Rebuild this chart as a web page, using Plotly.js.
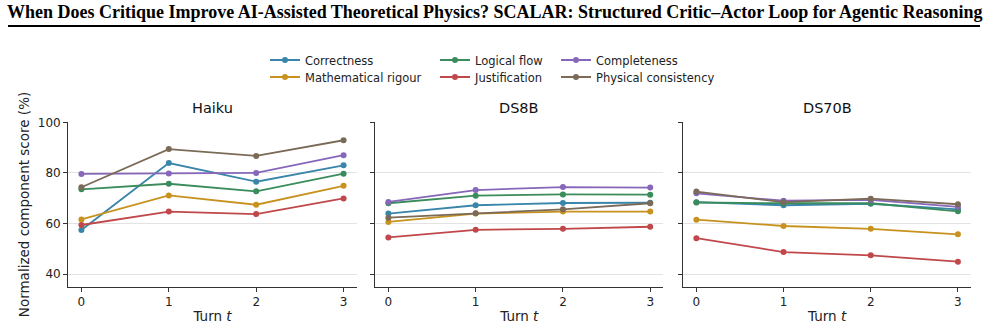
<!DOCTYPE html>
<html><head><meta charset="utf-8">
<script src="https://cdn.plot.ly/plotly-3.0.1.min.js"></script>
<style>html,body{margin:0;padding:0;background:#fff}#c{width:986px;height:328px}</style>
</head><body><div id="c"></div>
<script>
const turns = [0, 1, 2, 3];
const panels = ["Haiku", "DS8B", "DS70B"];
const metrics = ["Correctness", "Mathematical rigour", "Logical flow", "Justification", "Completeness", "Physical consistency"];
const colors = ["#3a86ab", "#c8921f", "#3a8c5c", "#c0484b", "#8667b9", "#7b6a57"];

// values per panel per metric (turns 0..3)
const haiku_correctness  = [57.4, 83.9, 76.5, 83.0];
const haiku_rigour       = [61.6, 71.1, 67.4, 74.9];
const haiku_logical      = [73.5, 75.7, 72.7, 79.7];
const haiku_justif       = [59.4, 64.7, 63.7, 69.9];
const haiku_complete     = [79.6, 79.8, 80.0, 87.0];
const haiku_physical     = [74.3, 89.4, 86.7, 92.9];

const ds8b_correctness   = [63.9, 67.2, 68.1, 68.2];
const ds8b_rigour        = [60.6, 63.9, 64.7, 64.7];
const ds8b_logical       = [68.0, 71.0, 71.5, 71.4];
const ds8b_justif        = [54.5, 57.5, 57.9, 58.7];
const ds8b_complete      = [68.5, 73.2, 74.4, 74.2];
const ds8b_physical      = [62.3, 64.0, 65.6, 68.0];

const ds70b_correctness  = [68.4, 67.2, 67.8, 65.6];
const ds70b_rigour       = [61.5, 59.0, 57.9, 55.7];
const ds70b_logical      = [68.3, 68.0, 68.0, 64.8];
const ds70b_justif       = [54.2, 48.7, 47.4, 44.9];
const ds70b_complete     = [71.9, 69.0, 69.3, 66.6];
const ds70b_physical     = [72.6, 68.4, 69.8, 67.6];

const data = [
  [haiku_correctness, haiku_rigour, haiku_logical, haiku_justif, haiku_complete, haiku_physical],
  [ds8b_correctness, ds8b_rigour, ds8b_logical, ds8b_justif, ds8b_complete, ds8b_physical],
  [ds70b_correctness, ds70b_rigour, ds70b_logical, ds70b_justif, ds70b_complete, ds70b_physical]
];

const W = 986, H = 328;
const px = v => v / W;
const py = v => 1 - v / H;

const traces = [];
const legNames = ["legend", "legend2", "legend3", "legend4", "legend5", "legend6"];
data.forEach((series, p) => {
  series.forEach((ys, m) => {
    traces.push({
      x: turns, y: ys, type: "scatter", mode: "lines+markers",
      name: metrics[m],
      line: {color: colors[m], width: 1.8},
      marker: {color: colors[m], size: 6},
      xaxis: p === 0 ? "x" : "x" + (p + 1),
      yaxis: p === 0 ? "y" : "y" + (p + 1),
      legend: legNames[m],
      showlegend: p === 0,
      hoverinfo: "skip"
    });
  });
});

const xDom = [[68.3, 356.7], [375.3, 663.3], [683.3, 971]];
const yDom = [py(286.7), py(122.3)];
const axCol = "#333";
const font = {family: "DejaVu Sans", size: 12, color: "#222"};

const layout = {
  width: W, height: H,
  margin: {l: 0, r: 0, t: 0, b: 0},
  paper_bgcolor: "#fff", plot_bgcolor: "#fff",
  font: font,
  showlegend: true,
  annotations: [],
  shapes: [{type: "line", xref: "paper", yref: "paper", x0: px(8), x1: px(980), y0: py(26), y1: py(26), line: {color: "#000", width: 2}}]
};

// legends placement: [left x, center y] (column-major order of metrics)
const legPos = [[273, 60], [273, 77], [443, 60], [443, 77], [564, 60], [564, 77]];
legPos.forEach((pos, i) => {
  layout[legNames[i]] = {
    x: px(pos[0] - 8), y: py(pos[1]), xanchor: "left", yanchor: "middle",
    bgcolor: "rgba(0,0,0,0)", borderwidth: 0, font: {family: "DejaVu Sans", size: 11.5, color: "#222"},
    itemwidth: 30
  };
});

for (let p = 0; p < 3; p++) {
  const s = p === 0 ? "" : String(p + 1);
  layout["xaxis" + s] = {
    domain: [px(xDom[p][0]), px(xDom[p][1])],
    range: [-0.15, 3.15],
    tickvals: turns, ticktext: turns.map(String),
    ticks: "outside", ticklen: 4, tickwidth: 1, tickcolor: axCol,
    showline: true, linecolor: axCol, linewidth: 1.2,
    showgrid: false, zeroline: false,
    tickfont: {family: "DejaVu Sans", size: 12, color: "#222"},
    title: {text: "Turn <i>t</i>", font: {family: "DejaVu Sans", size: 13.5, color: "#222"}, standoff: 3},
    anchor: "y" + s, fixedrange: true
  };
  layout["yaxis" + s] = {
    domain: yDom,
    range: [35, 100],
    tickvals: [40, 60, 80, 100],
    showticklabels: p === 0,
    ticks: "outside", ticklen: 4, tickwidth: 1, tickcolor: axCol,
    showline: true, linecolor: axCol, linewidth: 1.2,
    showgrid: true, gridcolor: "#e3e3e3", gridwidth: 1, zeroline: false,
    tickfont: {family: "DejaVu Sans", size: 12, color: "#222"},
    anchor: "x" + s, fixedrange: true
  };
  layout.annotations.push({
    text: panels[p], xref: "paper", yref: "paper",
    x: px((xDom[p][0] + xDom[p][1]) / 2), y: py(108),
    xanchor: "center", yanchor: "middle", showarrow: false,
    font: {family: "DejaVu Sans", size: 14.5, color: "#111"}
  });
}
layout.yaxis.title = {text: "Normalized component score (%)", font: {family: "DejaVu Sans", size: 13.5, color: "#222"}, standoff: 5};

layout.annotations.push({
  text: "<b>When Does Critique Improve AI-Assisted Theoretical Physics? SCALAR: Structured Critic–Actor Loop for Agentic Reasoning</b>",
  xref: "paper", yref: "paper", x: px(494), y: py(12), xanchor: "center", yanchor: "middle",
  showarrow: false, font: {family: "Liberation Serif", size: 18, color: "#000"}
});

Plotly.newPlot("c", traces, layout, {displayModeBar: false, staticPlot: true});
</script></body></html>
